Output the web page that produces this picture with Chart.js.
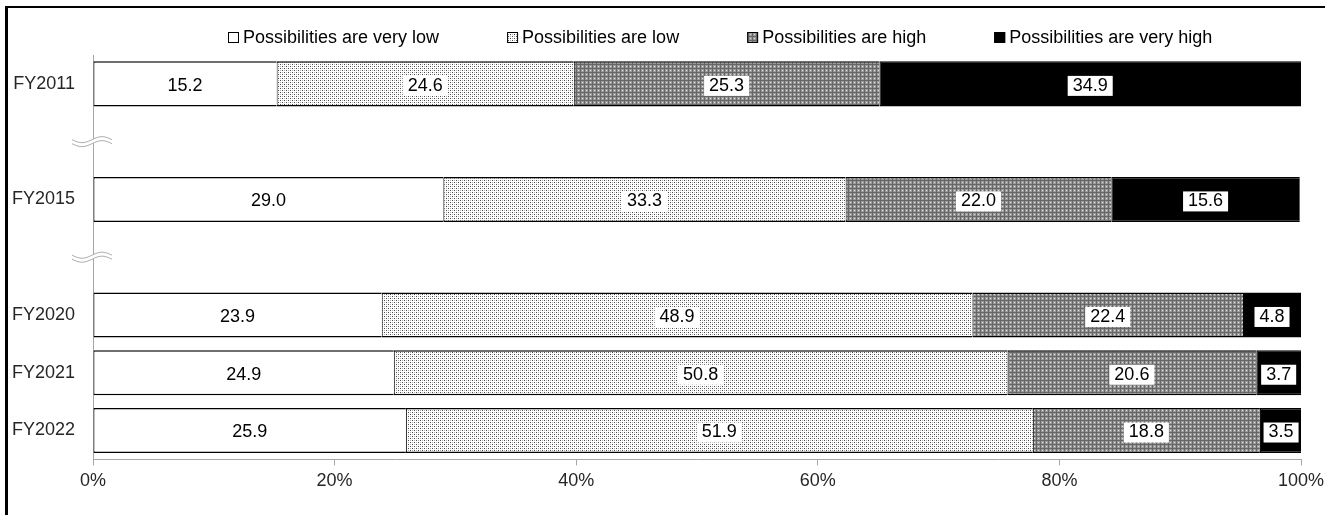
<!DOCTYPE html>
<html>
<head>
<meta charset="utf-8">
<script src="https://cdn.jsdelivr.net/npm/chart.js@4"></script>
<style>
  html, body { margin: 0; padding: 0; background: #fff; }
</style>
</head>
<body>
<canvas id="myChart" width="1325" height="515"></canvas>
<script>
// rows 1 and 3 are empty slots where the axis is broken
const years = ['FY2011', '', 'FY2015', '', 'FY2020', 'FY2021', 'FY2022'];
const veryLow = [15.2, null, 29.0, null, 23.9, 24.9, 25.9];
const low = [24.6, null, 33.3, null, 48.9, 50.8, 51.9];
const high = [25.3, null, 22.0, null, 22.4, 20.6, 18.8];
const veryHigh = [34.9, null, 15.6, null, 4.8, 3.7, 3.5];
const seriesNames = ['Possibilities are very low', 'Possibilities are low', 'Possibilities are high', 'Possibilities are very high'];
const xTicks = [0, 20, 40, 60, 80, 100];
const breakRows = [1, 3];

const FONT = '"Liberation Sans", Arial, sans-serif';
Chart.defaults.font.family = FONT;
Chart.defaults.font.size = 18;

// small tiled fills to mimic the dotted / checked patterns
function makePattern(bg, dots) {
    const c = document.createElement('canvas');
    c.width = 4; c.height = 4;
    const g = c.getContext('2d');
    g.fillStyle = bg;
    g.fillRect(0, 0, 4, 4);
    dots.forEach(d => { g.fillStyle = d[2]; g.fillRect(d[0], d[1], 1, 1); });
    return g.createPattern(c, 'repeat');
}

const lowFill = makePattern('#ffffff', [[0, 0, '#4a4a4a'], [2, 2, '#4a4a4a'], [2, 0, '#b0b0b0'], [0, 2, '#b0b0b0']]);
const highFill = makePattern('#9a9a9a', [
    [0, 0, '#666'], [1, 0, '#666'], [2, 0, '#666'], [3, 0, '#666'],
    [0, 1, '#666'], [0, 2, '#666'], [0, 3, '#666'], [2, 2, '#ddd']
]);

const fills = ['#ffffff', lowFill, highFill, '#000000'];
const values = [veryLow, low, high, veryHigh];

const frame = {
    id: 'frame',
    beforeDraw(chart) {
        const ctx = chart.ctx;
        ctx.save();
        ctx.fillStyle = '#fff';
        ctx.fillRect(0, 0, chart.width, chart.height);
        ctx.fillStyle = '#000';
        ctx.fillRect(5, 6, 3, chart.height);
        ctx.fillRect(5, 6, chart.width, 2);
        ctx.restore();
    }
};

const valueBoxes = {
    id: 'valueBoxes',
    afterDatasetsDraw(chart) {
        const ctx = chart.ctx;
        ctx.save();
        ctx.font = '18px ' + FONT;
        ctx.textAlign = 'center';
        ctx.textBaseline = 'middle';
        chart.data.datasets.forEach((ds, i) => {
            chart.getDatasetMeta(i).data.forEach((bar, j) => {
                const v = ds.data[j];
                if (v == null) return;
                const txt = v.toFixed(1);
                const cx = (bar.x + bar.base) / 2;
                const w = ctx.measureText(txt).width + 10;
                ctx.fillStyle = '#fff';
                ctx.fillRect(cx - w / 2, bar.y - 8, w, 20);
                ctx.fillStyle = '#000';
                ctx.fillText(txt, cx, bar.y + 2);
            });
        });
        ctx.restore();
    }
};

const axisBreaks = {
    id: 'axisBreaks',
    afterDraw(chart) {
        const ctx = chart.ctx;
        const x0 = chart.chartArea.left;
        ctx.save();
        breakRows.forEach(r => {
            const yc = chart.scales.y.getPixelForValue(r);
            const wave = (off) => {
                const pts = [];
                for (let t = 0; t <= 40; t++) {
                    pts.push([x0 - 21 + t, yc + off + 3 * Math.sin(t / 40 * 2 * Math.PI)]);
                }
                return pts;
            };
            const a = wave(-2), b = wave(2);
            ctx.beginPath();
            a.forEach((p, k) => k ? ctx.lineTo(p[0], p[1]) : ctx.moveTo(p[0], p[1]));
            b.slice().reverse().forEach(p => ctx.lineTo(p[0], p[1]));
            ctx.closePath();
            ctx.fillStyle = '#fff';
            ctx.fill();
            ctx.strokeStyle = '#b0b0b0';
            ctx.lineWidth = 1;
            [a, b].forEach(line => {
                ctx.beginPath();
                line.forEach((p, k) => k ? ctx.lineTo(p[0], p[1]) : ctx.moveTo(p[0], p[1]));
                ctx.stroke();
            });
        });
        ctx.restore();
    }
};

const topLegend = {
    id: 'topLegend',
    afterDraw(chart) {
        const ctx = chart.ctx;
        ctx.save();
        ctx.font = '18px ' + FONT;
        ctx.textBaseline = 'middle';
        let x = 228;
        chart.data.datasets.forEach(ds => {
            ctx.fillStyle = ds.backgroundColor;
            ctx.fillRect(x, 32, 11, 11);
            ctx.strokeStyle = '#000';
            ctx.lineWidth = 1;
            ctx.strokeRect(x + 0.5, 32.5, 10, 10);
            ctx.fillStyle = '#000';
            ctx.fillText(ds.label, x + 15, 38);
            x += 15 + ctx.measureText(ds.label).width + 68;
        });
        ctx.restore();
    }
};

const ctx = document.getElementById('myChart').getContext('2d');
const chart = new Chart(ctx, {
    type: 'bar',
    data: {
        labels: years,
        datasets: seriesNames.map((name, i) => ({
            label: name,
            data: values[i],
            backgroundColor: fills[i],
            borderColor: '#000',
            borderWidth: { top: 1.5, bottom: 1.5, left: 1, right: 0 },
            borderSkipped: false,
            categoryPercentage: 1,
            barPercentage: 0.78
        }))
    },
    options: {
        indexAxis: 'y',
        responsive: false,
        animation: false,
        devicePixelRatio: 1,
        layout: { padding: { top: 55, left: 12, right: 24, bottom: 18 } },
        plugins: {
            legend: { display: false },
            tooltip: { enabled: false }
        },
        scales: {
            x: {
                stacked: true,
                min: 0,
                max: 100,
                afterBuildTicks: axis => { axis.ticks = xTicks.map(v => ({ value: v })); },
                afterFit: axis => { axis.paddingLeft = 0; axis.paddingRight = 0; },
                ticks: { callback: v => v + '%', color: '#262626', padding: 5, maxRotation: 0 },
                grid: { drawOnChartArea: false, tickLength: 6, color: '#a6a6a6' },
                border: { color: '#a6a6a6', width: 1 }
            },
            y: {
                stacked: true,
                afterFit: axis => { axis.width = 81; },
                ticks: { color: '#262626', padding: 18 },
                grid: { display: false, drawTicks: false },
                border: { color: '#a6a6a6', width: 1 }
            }
        }
    },
    plugins: [frame, valueBoxes, axisBreaks, topLegend]
});
</script>
</body>
</html>
